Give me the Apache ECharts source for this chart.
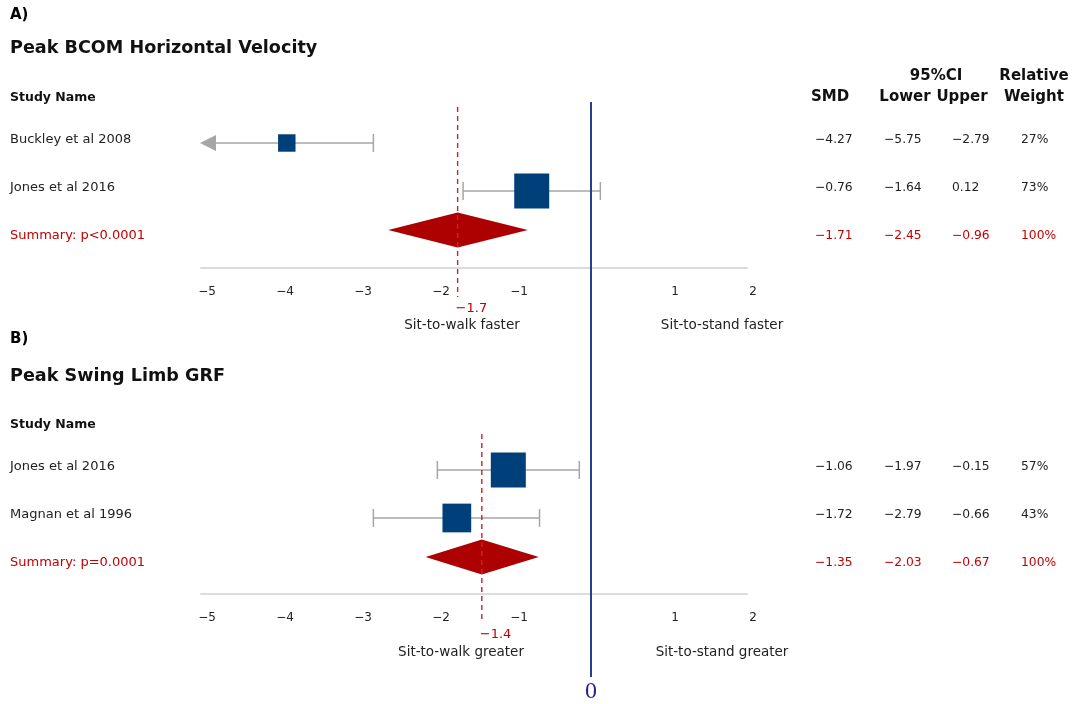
<!DOCTYPE html>
<html><head><meta charset="utf-8">
<script src="https://cdn.jsdelivr.net/npm/echarts@6/dist/echarts.min.js"></script>
<style>html,body{margin:0;padding:0;background:#fff}#c{width:1076px;height:704px}</style>
</head><body><div id="c"></div><script>
// ---------- Panel A data ----------
const titleA = 'Peak BCOM Horizontal Velocity';
const studiesA = ['Buckley et al 2008', 'Jones et al 2016'];
const smdA = [-4.27, -0.76];
const lowerA = [-5.75, -1.64];
const upperA = [-2.79, 0.12];
const weightA = [27, 73];
const markerA = [-3.9, -0.76];          // where the square is drawn (Buckley: centre of visible CI)
const summaryLabelA = 'Summary: p<0.0001';
const summaryA = [-1.71, -2.45, -0.96]; // SMD, lower, upper (table)
const diamondA = [-2.6, -1.71, -0.81];  // drawn diamond: left, centre, right
const refA = -1.71, refLabelA = '\u22121.7';
const sideA = ['Sit-to-walk faster', 'Sit-to-stand faster'];
// ---------- Panel B data ----------
const titleB = 'Peak Swing Limb GRF';
const studiesB = ['Jones et al 2016', 'Magnan et al 1996'];
const smdB = [-1.06, -1.72];
const lowerB = [-1.97, -2.79];
const upperB = [-0.15, -0.66];
const weightB = [57, 43];
const markerB = [-1.06, -1.72];
const summaryLabelB = 'Summary: p=0.0001';
const summaryB = [-1.35, -2.03, -0.67];
const diamondB = [-2.12, -1.40, -0.67];
const refB = -1.40, refLabelB = '\u22121.4';
const sideB = ['Sit-to-walk greater', 'Sit-to-stand greater'];
// ---------- axis ----------
const xMin = -5, xMax = 2, xInterval = 1;

// ---------- layout ----------
const W = 1076, H = 704;
const gridL = 201, gridR = W - 747;
const rowH = 48, yMin = -0.854;
const panels = [
  {top: 102, axisY: 268},
  {top: 429, axisY: 594}
];
const FONT = '"DejaVu Sans", Verdana, sans-serif';
const RED = '#c00000', INK = '#222';
const fmt = v => (v < 0 ? '\u2212' + Math.abs(v).toFixed(2) : v.toFixed(2));

function rowPix(p, r) { return panels[p].top + (r - yMin) * rowH; }

function ciRender(params, api) {
  const row = api.value(0), lo = api.value(1), hi = api.value(2), mk = api.value(3), sz = api.value(4);
  const y = api.coord([0, row])[1];
  const clipped = lo < xMin;
  const xl = api.coord([Math.max(lo, xMin), row])[0];
  const xh = api.coord([hi, row])[0];
  const xm = api.coord([mk, row])[0];
  const grey = '#a6a6a6';
  const ch = [];
  ch.push({type: 'line', shape: {x1: clipped ? xl + 12 : xl, y1: y, x2: xh, y2: y}, style: {stroke: grey, lineWidth: 1.5}});
  ch.push({type: 'line', shape: {x1: xh, y1: y - 9, x2: xh, y2: y + 9}, style: {stroke: grey, lineWidth: 1.5}});
  if (clipped) {
    ch.push({type: 'polygon', shape: {points: [[xl - 1, y], [xl + 15, y - 8], [xl + 15, y + 8]]}, style: {fill: grey}});
  } else {
    ch.push({type: 'line', shape: {x1: xl, y1: y - 9, x2: xl, y2: y + 9}, style: {stroke: grey, lineWidth: 1.5}});
  }
  ch.push({type: 'rect', shape: {x: xm - sz / 2, y: y - sz / 2, width: sz, height: sz}, style: {fill: '#00407a'}});
  return {type: 'group', children: ch};
}
function diamondRender(params, api) {
  const row = api.value(0);
  const y = api.coord([0, row])[1] - 9;
  const xl = api.coord([api.value(1), row])[0];
  const xm = api.coord([api.value(2), row])[0];
  const xh = api.coord([api.value(3), row])[0];
  return {type: 'polygon', shape: {points: [[xl, y], [xm, y - 17.5], [xh, y], [xm, y + 17.5]]}, style: {fill: '#ad0000'}};
}
function refRender(pIdx) {
  return function (params, api) {
    const x = api.coord([api.value(0), 0])[0];
    const y1 = panels[pIdx].top + 5, y2 = panels[pIdx].axisY + 29;
    return {type: 'group', children: [
      {type: 'line', shape: {x1: x, y1: y1, x2: x, y2: y2}, style: {stroke: '#d81e26', lineWidth: 1.4, lineDash: [5, 4]}},
      {type: 'text', x: x - 2, y: panels[pIdx].axisY + 41, style: {text: pIdx === 0 ? refLabelA : refLabelB, fill: RED, font: '13px ' + FONT, align: 'left', verticalAlign: 'middle', textAlign: 'left', textVerticalAlign: 'middle'}}
    ]};
  };
}
function sizes(w) { const m = Math.max(...w); return w.map(v => 35 * Math.pow(v / m, 0.7)); }

const grids = [], xAxes = [], yAxes = [], series = [];
panels.forEach((p, i) => {
  grids.push({left: gridL, right: gridR, top: p.top, bottom: H - p.axisY});
  xAxes.push({type: 'value', gridIndex: i, min: xMin, max: xMax, interval: xInterval,
    axisLine: {show: true, onZero: false, lineStyle: {color: '#dcdcdc', width: 2}},
    axisTick: {show: false}, splitLine: {show: false},
    axisLabel: {margin: 18, color: INK, fontSize: 12, fontFamily: FONT, padding: [0, 0, 0, 12],
      formatter: v => v === 0 ? '' : (v < 0 ? '\u2212' + Math.abs(v) : String(v))}});
  const h = p.axisY - p.top;
  yAxes.push({type: 'value', gridIndex: i, inverse: true, min: yMin, max: yMin + h / rowH, show: false});
});
// overlay grid for zero line
grids.push({left: gridL, right: gridR, top: 102, bottom: H - 677});
xAxes.push({type: 'value', gridIndex: 2, min: xMin, max: xMax, show: false});
yAxes.push({type: 'value', gridIndex: 2, min: 0, max: 1, show: false});

[[markerA, lowerA, upperA, weightA, diamondA, refA], [markerB, lowerB, upperB, weightB, diamondB, refB]].forEach((d, i) => {
  const sz = sizes(d[3]);
  series.push({type: 'custom', xAxisIndex: i, yAxisIndex: i, renderItem: ciRender, clip: false,
    data: d[0].map((m, k) => [k, d[1][k], d[2][k], m, sz[k]]), z: 3});
  series.push({type: 'custom', xAxisIndex: i, yAxisIndex: i, renderItem: diamondRender, clip: false,
    data: [[2, d[4][0], d[4][1], d[4][2]]], z: 3});
  series.push({type: 'custom', xAxisIndex: i, yAxisIndex: i, renderItem: refRender(i), clip: false,
    data: [[d[5]]], z: 4});
});
series.push({type: 'line', xAxisIndex: 2, yAxisIndex: 2, data: [[0, 0], [0, 1]], showSymbol: false, symbol: 'none',
  lineStyle: {color: '#27408b', width: 2}, z: 10, animation: false});

// ---------- texts ----------
const g = [];
function txt(t, x, y, o) {
  o = o || {};
  g.push({type: 'text', x: x, y: y, z: 20, style: {text: t, fill: o.fill || INK,
    font: (o.bold ? 'bold ' : '') + (o.size || 12) + 'px ' + (o.family || FONT),
    align: o.align || 'left', textAlign: o.align || 'left', verticalAlign: 'middle', textVerticalAlign: 'middle'}});
}
txt('A)', 10, 15, {bold: true, size: 15, fill: '#000'});
txt(titleA, 10, 48, {bold: true, size: 17.6, fill: '#111'});
txt('Study Name', 10, 98, {bold: true, size: 12.5, fill: '#111'});
txt('B)', 10, 339, {bold: true, size: 15, fill: '#000'});
txt(titleB, 10, 376, {bold: true, size: 17.6, fill: '#111'});
txt('Study Name', 10, 425, {bold: true, size: 12.5, fill: '#111'});
// table headers
txt('95%CI', 936, 76, {bold: true, size: 15, align: 'center', fill: '#111'});
txt('Relative', 1034, 76, {bold: true, size: 15, align: 'center', fill: '#111'});
txt('SMD', 830, 97, {bold: true, size: 15, align: 'center', fill: '#111'});
txt('Lower', 905, 97, {bold: true, size: 15, align: 'center', fill: '#111'});
txt('Upper', 962, 97, {bold: true, size: 15, align: 'center', fill: '#111'});
txt('Weight', 1034, 97, {bold: true, size: 15, align: 'center', fill: '#111'});
const colX = [815, 884, 952, 1021];
[[studiesA, smdA, lowerA, upperA, weightA, summaryLabelA, summaryA], [studiesB, smdB, lowerB, upperB, weightB, summaryLabelB, summaryB]].forEach((d, p) => {
  d[0].forEach((s, k) => {
    const y = rowPix(p, k) - 3.5;
    txt(s, 10, y, {size: 13});
    txt(fmt(d[1][k]), colX[0], y, {size: 12.3});
    txt(fmt(d[2][k]), colX[1], y, {size: 12.3});
    txt(fmt(d[3][k]), colX[2], y, {size: 12.3});
    txt(d[4][k] + '%', colX[3], y, {size: 12.3});
  });
  const ys = rowPix(p, 2) - 3;
  txt(d[5], 10, ys, {fill: RED, size: 13});
  txt(fmt(d[6][0]), colX[0], ys, {fill: RED, size: 12.3});
  txt(fmt(d[6][1]), colX[1], ys, {fill: RED, size: 12.3});
  txt(fmt(d[6][2]), colX[2], ys, {fill: RED, size: 12.3});
  txt('100%', colX[3], ys, {fill: RED, size: 12.3});
});
txt(sideA[0], 462, 325, {align: 'center', size: 13.5});
txt(sideA[1], 722, 325, {align: 'center', size: 13.5});
txt(sideB[0], 461, 652, {align: 'center', size: 13.5});
txt(sideB[1], 722, 652, {align: 'center', size: 13.5});
txt('0', 591, 692, {align: 'center', size: 24, family: '"Liberation Serif", "Times New Roman", serif', fill: '#321a88'});

const chart = echarts.init(document.getElementById('c'), null, {renderer: 'canvas'});
chart.setOption({animation: false, backgroundColor: '#fff', grid: grids, xAxis: xAxes, yAxis: yAxes, series: series, graphic: g});
</script></body></html>
